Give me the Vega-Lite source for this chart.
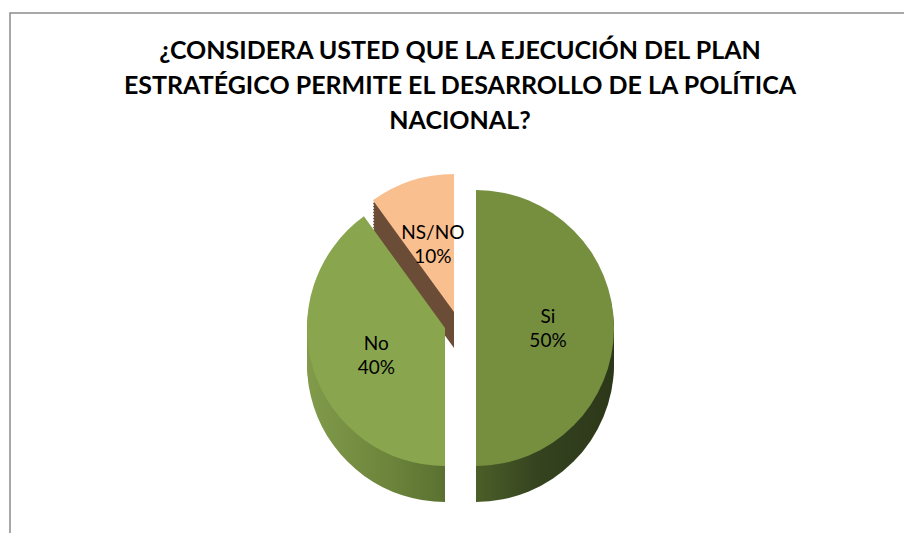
{
 "$schema": "https://vega.github.io/schema/vega-lite/v6.json",
 "autosize": "none",
 "width": 900,
 "height": 630,
 "padding": {"left": 10, "top": 13, "right": 0, "bottom": 0},
 "background": "white",
 "title": {
  "text": ["¿CONSIDERA USTED QUE LA EJECUCIÓN DEL PLAN", "ESTRATÉGICO PERMITE EL DESARROLLO DE LA POLÍTICA", "NACIONAL?"],
  "font": "Lato", "fontSize": 25, "fontWeight": "bold", "color": "#000000",
  "lineHeight": 35, "anchor": "middle", "offset": -122
 },
 "config": {"view": {"stroke": null}},
 "data": {"values": [
  {"respuesta": "Si", "valor": 0.5, "orden": 1},
  {"respuesta": "No", "valor": 0.4, "orden": 2},
  {"respuesta": "NS/NO", "valor": 0.1, "orden": 3}
 ]},
 "transform": [{"stack": "valor", "groupby": [], "sort": [{"field": "orden", "order": "ascending"}], "as": ["t0", "t1"]}],
 "layer": [
  {"transform": [{"filter": "datum.respuesta==='Si'"}], "mark": {"type": "rect", "filled": false, "stroke": "#8c8c8c", "strokeWidth": 1.5}, "encoding": {}},
  {"transform": [{"filter": "datum.respuesta==='NS/NO'"}], "mark": {"type": "arc", "radius": 138, "xOffset": -6, "yOffset": 20, "fill": "#6b4d37"}, "encoding": {"theta": {"field": "t0", "type": "quantitative", "scale": {"domain": [0, 1]}}, "theta2": {"field": "t1"}}},
  {"transform": [{"filter": "datum.respuesta==='NS/NO'"}], "mark": {"type": "arc", "radius": 138, "xOffset": -6, "yOffset": 17, "fill": "#6b4d37"}, "encoding": {"theta": {"field": "t0", "type": "quantitative", "scale": {"domain": [0, 1]}}, "theta2": {"field": "t1"}}},
  {"transform": [{"filter": "datum.respuesta==='NS/NO'"}], "mark": {"type": "arc", "radius": 138, "xOffset": -6, "yOffset": 14, "fill": "#6b4d37"}, "encoding": {"theta": {"field": "t0", "type": "quantitative", "scale": {"domain": [0, 1]}}, "theta2": {"field": "t1"}}},
  {"transform": [{"filter": "datum.respuesta==='NS/NO'"}], "mark": {"type": "arc", "radius": 138, "xOffset": -6, "yOffset": 11, "fill": "#6b4d37"}, "encoding": {"theta": {"field": "t0", "type": "quantitative", "scale": {"domain": [0, 1]}}, "theta2": {"field": "t1"}}},
  {"transform": [{"filter": "datum.respuesta==='NS/NO'"}], "mark": {"type": "arc", "radius": 138, "xOffset": -6, "yOffset": 8, "fill": "#6b4d37"}, "encoding": {"theta": {"field": "t0", "type": "quantitative", "scale": {"domain": [0, 1]}}, "theta2": {"field": "t1"}}},
  {"transform": [{"filter": "datum.respuesta==='NS/NO'"}], "mark": {"type": "arc", "radius": 138, "xOffset": -6, "yOffset": 5, "fill": "#6b4d37"}, "encoding": {"theta": {"field": "t0", "type": "quantitative", "scale": {"domain": [0, 1]}}, "theta2": {"field": "t1"}}},
  {"transform": [{"filter": "datum.respuesta==='NS/NO'"}], "mark": {"type": "arc", "radius": 138, "xOffset": -6, "yOffset": 2, "fill": "#6b4d37"}, "encoding": {"theta": {"field": "t0", "type": "quantitative", "scale": {"domain": [0, 1]}}, "theta2": {"field": "t1"}}},
  {"transform": [{"filter": "datum.respuesta==='NS/NO'"}], "mark": {"type": "arc", "radius": 138, "xOffset": -6, "yOffset": -1, "fill": "#6b4d37"}, "encoding": {"theta": {"field": "t0", "type": "quantitative", "scale": {"domain": [0, 1]}}, "theta2": {"field": "t1"}}},
  {"transform": [{"filter": "datum.respuesta==='NS/NO'"}], "mark": {"type": "arc", "radius": 138, "xOffset": -6, "yOffset": -4, "fill": "#6b4d37"}, "encoding": {"theta": {"field": "t0", "type": "quantitative", "scale": {"domain": [0, 1]}}, "theta2": {"field": "t1"}}},
  {"transform": [{"filter": "datum.respuesta==='NS/NO'"}], "mark": {"type": "arc", "radius": 138, "xOffset": -6, "yOffset": -7, "fill": "#6b4d37"}, "encoding": {"theta": {"field": "t0", "type": "quantitative", "scale": {"domain": [0, 1]}}, "theta2": {"field": "t1"}}},
  {"transform": [{"filter": "datum.respuesta==='NS/NO'"}], "mark": {"type": "arc", "radius": 138, "xOffset": -6, "yOffset": -10, "fill": "#6b4d37"}, "encoding": {"theta": {"field": "t0", "type": "quantitative", "scale": {"domain": [0, 1]}}, "theta2": {"field": "t1"}}},
  {"transform": [{"filter": "datum.respuesta==='NS/NO'"}], "mark": {"type": "arc", "radius": 138, "xOffset": -6, "yOffset": -13, "fill": "#6b4d37"}, "encoding": {"theta": {"field": "t0", "type": "quantitative", "scale": {"domain": [0, 1]}}, "theta2": {"field": "t1"}}},

  {"transform": [{"filter": "datum.respuesta==='No'"}], "mark": {"type": "arc", "radius": 138, "xOffset": -15, "yOffset": 36, "fill": {"gradient": "linear", "x1": 0, "y1": 0, "x2": 1, "y2": 0, "stops": [{"offset": 0, "color": "#819b4b"}, {"offset": 0.6, "color": "#6c843b"}, {"offset": 1, "color": "#5a7131"}]}}, "encoding": {"theta": {"field": "t0", "type": "quantitative", "scale": {"domain": [0, 1]}}, "theta2": {"field": "t1"}}},
  {"transform": [{"filter": "datum.respuesta==='No'"}], "mark": {"type": "arc", "radius": 138, "xOffset": -15, "yOffset": 33, "fill": {"gradient": "linear", "x1": 0, "y1": 0, "x2": 1, "y2": 0, "stops": [{"offset": 0, "color": "#819b4b"}, {"offset": 0.6, "color": "#6c843b"}, {"offset": 1, "color": "#5a7131"}]}}, "encoding": {"theta": {"field": "t0", "type": "quantitative", "scale": {"domain": [0, 1]}}, "theta2": {"field": "t1"}}},
  {"transform": [{"filter": "datum.respuesta==='No'"}], "mark": {"type": "arc", "radius": 138, "xOffset": -15, "yOffset": 30, "fill": {"gradient": "linear", "x1": 0, "y1": 0, "x2": 1, "y2": 0, "stops": [{"offset": 0, "color": "#819b4b"}, {"offset": 0.6, "color": "#6c843b"}, {"offset": 1, "color": "#5a7131"}]}}, "encoding": {"theta": {"field": "t0", "type": "quantitative", "scale": {"domain": [0, 1]}}, "theta2": {"field": "t1"}}},
  {"transform": [{"filter": "datum.respuesta==='No'"}], "mark": {"type": "arc", "radius": 138, "xOffset": -15, "yOffset": 27, "fill": {"gradient": "linear", "x1": 0, "y1": 0, "x2": 1, "y2": 0, "stops": [{"offset": 0, "color": "#819b4b"}, {"offset": 0.6, "color": "#6c843b"}, {"offset": 1, "color": "#5a7131"}]}}, "encoding": {"theta": {"field": "t0", "type": "quantitative", "scale": {"domain": [0, 1]}}, "theta2": {"field": "t1"}}},
  {"transform": [{"filter": "datum.respuesta==='No'"}], "mark": {"type": "arc", "radius": 138, "xOffset": -15, "yOffset": 24, "fill": {"gradient": "linear", "x1": 0, "y1": 0, "x2": 1, "y2": 0, "stops": [{"offset": 0, "color": "#819b4b"}, {"offset": 0.6, "color": "#6c843b"}, {"offset": 1, "color": "#5a7131"}]}}, "encoding": {"theta": {"field": "t0", "type": "quantitative", "scale": {"domain": [0, 1]}}, "theta2": {"field": "t1"}}},
  {"transform": [{"filter": "datum.respuesta==='No'"}], "mark": {"type": "arc", "radius": 138, "xOffset": -15, "yOffset": 21, "fill": {"gradient": "linear", "x1": 0, "y1": 0, "x2": 1, "y2": 0, "stops": [{"offset": 0, "color": "#819b4b"}, {"offset": 0.6, "color": "#6c843b"}, {"offset": 1, "color": "#5a7131"}]}}, "encoding": {"theta": {"field": "t0", "type": "quantitative", "scale": {"domain": [0, 1]}}, "theta2": {"field": "t1"}}},
  {"transform": [{"filter": "datum.respuesta==='No'"}], "mark": {"type": "arc", "radius": 138, "xOffset": -15, "yOffset": 18, "fill": {"gradient": "linear", "x1": 0, "y1": 0, "x2": 1, "y2": 0, "stops": [{"offset": 0, "color": "#819b4b"}, {"offset": 0.6, "color": "#6c843b"}, {"offset": 1, "color": "#5a7131"}]}}, "encoding": {"theta": {"field": "t0", "type": "quantitative", "scale": {"domain": [0, 1]}}, "theta2": {"field": "t1"}}},
  {"transform": [{"filter": "datum.respuesta==='No'"}], "mark": {"type": "arc", "radius": 138, "xOffset": -15, "yOffset": 15, "fill": {"gradient": "linear", "x1": 0, "y1": 0, "x2": 1, "y2": 0, "stops": [{"offset": 0, "color": "#819b4b"}, {"offset": 0.6, "color": "#6c843b"}, {"offset": 1, "color": "#5a7131"}]}}, "encoding": {"theta": {"field": "t0", "type": "quantitative", "scale": {"domain": [0, 1]}}, "theta2": {"field": "t1"}}},
  {"transform": [{"filter": "datum.respuesta==='No'"}], "mark": {"type": "arc", "radius": 138, "xOffset": -15, "yOffset": 12, "fill": {"gradient": "linear", "x1": 0, "y1": 0, "x2": 1, "y2": 0, "stops": [{"offset": 0, "color": "#819b4b"}, {"offset": 0.6, "color": "#6c843b"}, {"offset": 1, "color": "#5a7131"}]}}, "encoding": {"theta": {"field": "t0", "type": "quantitative", "scale": {"domain": [0, 1]}}, "theta2": {"field": "t1"}}},
  {"transform": [{"filter": "datum.respuesta==='No'"}], "mark": {"type": "arc", "radius": 138, "xOffset": -15, "yOffset": 9, "fill": {"gradient": "linear", "x1": 0, "y1": 0, "x2": 1, "y2": 0, "stops": [{"offset": 0, "color": "#819b4b"}, {"offset": 0.6, "color": "#6c843b"}, {"offset": 1, "color": "#5a7131"}]}}, "encoding": {"theta": {"field": "t0", "type": "quantitative", "scale": {"domain": [0, 1]}}, "theta2": {"field": "t1"}}},
  {"transform": [{"filter": "datum.respuesta==='No'"}], "mark": {"type": "arc", "radius": 138, "xOffset": -15, "yOffset": 6, "fill": {"gradient": "linear", "x1": 0, "y1": 0, "x2": 1, "y2": 0, "stops": [{"offset": 0, "color": "#819b4b"}, {"offset": 0.6, "color": "#6c843b"}, {"offset": 1, "color": "#5a7131"}]}}, "encoding": {"theta": {"field": "t0", "type": "quantitative", "scale": {"domain": [0, 1]}}, "theta2": {"field": "t1"}}},
  {"transform": [{"filter": "datum.respuesta==='No'"}], "mark": {"type": "arc", "radius": 138, "xOffset": -15, "yOffset": 3, "fill": {"gradient": "linear", "x1": 0, "y1": 0, "x2": 1, "y2": 0, "stops": [{"offset": 0, "color": "#819b4b"}, {"offset": 0.6, "color": "#6c843b"}, {"offset": 1, "color": "#5a7131"}]}}, "encoding": {"theta": {"field": "t0", "type": "quantitative", "scale": {"domain": [0, 1]}}, "theta2": {"field": "t1"}}},

  {"transform": [{"filter": "datum.respuesta==='Si'"}], "mark": {"type": "arc", "radius": 138, "xOffset": 16, "yOffset": 36, "fill": {"gradient": "linear", "x1": 0, "y1": 0, "x2": 1, "y2": 0, "stops": [{"offset": 0, "color": "#4b5f28"}, {"offset": 0.45, "color": "#35431f"}, {"offset": 1, "color": "#2c3719"}]}}, "encoding": {"theta": {"field": "t0", "type": "quantitative", "scale": {"domain": [0, 1]}}, "theta2": {"field": "t1"}}},
  {"transform": [{"filter": "datum.respuesta==='Si'"}], "mark": {"type": "arc", "radius": 138, "xOffset": 16, "yOffset": 33, "fill": {"gradient": "linear", "x1": 0, "y1": 0, "x2": 1, "y2": 0, "stops": [{"offset": 0, "color": "#4b5f28"}, {"offset": 0.45, "color": "#35431f"}, {"offset": 1, "color": "#2c3719"}]}}, "encoding": {"theta": {"field": "t0", "type": "quantitative", "scale": {"domain": [0, 1]}}, "theta2": {"field": "t1"}}},
  {"transform": [{"filter": "datum.respuesta==='Si'"}], "mark": {"type": "arc", "radius": 138, "xOffset": 16, "yOffset": 30, "fill": {"gradient": "linear", "x1": 0, "y1": 0, "x2": 1, "y2": 0, "stops": [{"offset": 0, "color": "#4b5f28"}, {"offset": 0.45, "color": "#35431f"}, {"offset": 1, "color": "#2c3719"}]}}, "encoding": {"theta": {"field": "t0", "type": "quantitative", "scale": {"domain": [0, 1]}}, "theta2": {"field": "t1"}}},
  {"transform": [{"filter": "datum.respuesta==='Si'"}], "mark": {"type": "arc", "radius": 138, "xOffset": 16, "yOffset": 27, "fill": {"gradient": "linear", "x1": 0, "y1": 0, "x2": 1, "y2": 0, "stops": [{"offset": 0, "color": "#4b5f28"}, {"offset": 0.45, "color": "#35431f"}, {"offset": 1, "color": "#2c3719"}]}}, "encoding": {"theta": {"field": "t0", "type": "quantitative", "scale": {"domain": [0, 1]}}, "theta2": {"field": "t1"}}},
  {"transform": [{"filter": "datum.respuesta==='Si'"}], "mark": {"type": "arc", "radius": 138, "xOffset": 16, "yOffset": 24, "fill": {"gradient": "linear", "x1": 0, "y1": 0, "x2": 1, "y2": 0, "stops": [{"offset": 0, "color": "#4b5f28"}, {"offset": 0.45, "color": "#35431f"}, {"offset": 1, "color": "#2c3719"}]}}, "encoding": {"theta": {"field": "t0", "type": "quantitative", "scale": {"domain": [0, 1]}}, "theta2": {"field": "t1"}}},
  {"transform": [{"filter": "datum.respuesta==='Si'"}], "mark": {"type": "arc", "radius": 138, "xOffset": 16, "yOffset": 21, "fill": {"gradient": "linear", "x1": 0, "y1": 0, "x2": 1, "y2": 0, "stops": [{"offset": 0, "color": "#4b5f28"}, {"offset": 0.45, "color": "#35431f"}, {"offset": 1, "color": "#2c3719"}]}}, "encoding": {"theta": {"field": "t0", "type": "quantitative", "scale": {"domain": [0, 1]}}, "theta2": {"field": "t1"}}},
  {"transform": [{"filter": "datum.respuesta==='Si'"}], "mark": {"type": "arc", "radius": 138, "xOffset": 16, "yOffset": 18, "fill": {"gradient": "linear", "x1": 0, "y1": 0, "x2": 1, "y2": 0, "stops": [{"offset": 0, "color": "#4b5f28"}, {"offset": 0.45, "color": "#35431f"}, {"offset": 1, "color": "#2c3719"}]}}, "encoding": {"theta": {"field": "t0", "type": "quantitative", "scale": {"domain": [0, 1]}}, "theta2": {"field": "t1"}}},
  {"transform": [{"filter": "datum.respuesta==='Si'"}], "mark": {"type": "arc", "radius": 138, "xOffset": 16, "yOffset": 15, "fill": {"gradient": "linear", "x1": 0, "y1": 0, "x2": 1, "y2": 0, "stops": [{"offset": 0, "color": "#4b5f28"}, {"offset": 0.45, "color": "#35431f"}, {"offset": 1, "color": "#2c3719"}]}}, "encoding": {"theta": {"field": "t0", "type": "quantitative", "scale": {"domain": [0, 1]}}, "theta2": {"field": "t1"}}},
  {"transform": [{"filter": "datum.respuesta==='Si'"}], "mark": {"type": "arc", "radius": 138, "xOffset": 16, "yOffset": 12, "fill": {"gradient": "linear", "x1": 0, "y1": 0, "x2": 1, "y2": 0, "stops": [{"offset": 0, "color": "#4b5f28"}, {"offset": 0.45, "color": "#35431f"}, {"offset": 1, "color": "#2c3719"}]}}, "encoding": {"theta": {"field": "t0", "type": "quantitative", "scale": {"domain": [0, 1]}}, "theta2": {"field": "t1"}}},
  {"transform": [{"filter": "datum.respuesta==='Si'"}], "mark": {"type": "arc", "radius": 138, "xOffset": 16, "yOffset": 9, "fill": {"gradient": "linear", "x1": 0, "y1": 0, "x2": 1, "y2": 0, "stops": [{"offset": 0, "color": "#4b5f28"}, {"offset": 0.45, "color": "#35431f"}, {"offset": 1, "color": "#2c3719"}]}}, "encoding": {"theta": {"field": "t0", "type": "quantitative", "scale": {"domain": [0, 1]}}, "theta2": {"field": "t1"}}},
  {"transform": [{"filter": "datum.respuesta==='Si'"}], "mark": {"type": "arc", "radius": 138, "xOffset": 16, "yOffset": 6, "fill": {"gradient": "linear", "x1": 0, "y1": 0, "x2": 1, "y2": 0, "stops": [{"offset": 0, "color": "#4b5f28"}, {"offset": 0.45, "color": "#35431f"}, {"offset": 1, "color": "#2c3719"}]}}, "encoding": {"theta": {"field": "t0", "type": "quantitative", "scale": {"domain": [0, 1]}}, "theta2": {"field": "t1"}}},
  {"transform": [{"filter": "datum.respuesta==='Si'"}], "mark": {"type": "arc", "radius": 138, "xOffset": 16, "yOffset": 3, "fill": {"gradient": "linear", "x1": 0, "y1": 0, "x2": 1, "y2": 0, "stops": [{"offset": 0, "color": "#4b5f28"}, {"offset": 0.45, "color": "#35431f"}, {"offset": 1, "color": "#2c3719"}]}}, "encoding": {"theta": {"field": "t0", "type": "quantitative", "scale": {"domain": [0, 1]}}, "theta2": {"field": "t1"}}},

  {"transform": [{"filter": "datum.respuesta==='NS/NO'"}], "mark": {"type": "arc", "radius": 138, "xOffset": -6, "yOffset": -16, "fill": "#f9bf8f"}, "encoding": {"theta": {"field": "t0", "type": "quantitative", "scale": {"domain": [0, 1]}}, "theta2": {"field": "t1"}}},
  {"transform": [{"filter": "datum.respuesta==='No'"}], "mark": {"type": "arc", "radius": 138, "xOffset": -15, "yOffset": 0, "fill": "#89a64e"}, "encoding": {"theta": {"field": "t0", "type": "quantitative", "scale": {"domain": [0, 1]}}, "theta2": {"field": "t1"}}},
  {"transform": [{"filter": "datum.respuesta==='Si'"}], "mark": {"type": "arc", "radius": 138, "xOffset": 16, "yOffset": 0, "fill": "#758f3f"}, "encoding": {"theta": {"field": "t0", "type": "quantitative", "scale": {"domain": [0, 1]}}, "theta2": {"field": "t1"}}},

  {"mark": {"type": "text", "radius": 88, "dy": -11, "font": "Lato", "fontSize": 19, "color": "#000000"}, "encoding": {"theta": {"field": "valor", "type": "quantitative", "stack": true}, "order": {"field": "orden", "type": "quantitative"}, "text": {"field": "respuesta", "type": "nominal"}}},
  {"mark": {"type": "text", "radius": 88, "dy": 13, "font": "Lato", "fontSize": 19, "color": "#000000"}, "encoding": {"theta": {"field": "valor", "type": "quantitative", "stack": true}, "order": {"field": "orden", "type": "quantitative"}, "text": {"field": "valor", "type": "quantitative", "format": ".0%"}}}
 ]
}
